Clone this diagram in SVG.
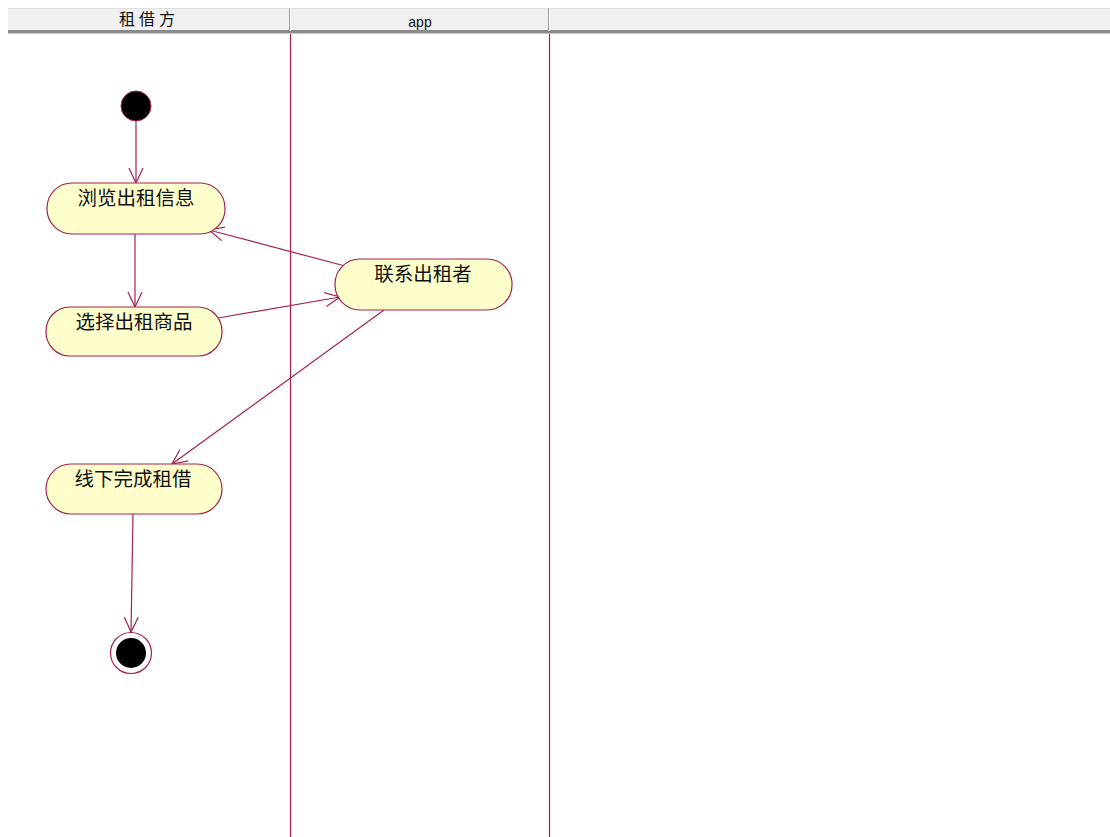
<svg xmlns="http://www.w3.org/2000/svg" width="1110" height="837" viewBox="0 0 1110 837">
<defs>
<style>
.lane{stroke:#a3234f;stroke-width:1.2;fill:none}
.act{fill:#ffffcc;stroke:#a3234f;stroke-width:1.2}
.lbl{font-family:"Noto Sans CJK SC","Liberation Sans",sans-serif;font-size:19.5px;fill:#111;text-anchor:middle}
.hdr{font-family:"Noto Sans CJK SC","Liberation Sans",sans-serif;font-size:16px;fill:#111;text-anchor:middle}
.edge{stroke:#a3234f;stroke-width:1.2;fill:none;marker-end:url(#open)}
</style>
<marker id="open" viewBox="0 0 16 16" refX="15" refY="8" markerWidth="16" markerHeight="16" markerUnits="userSpaceOnUse" orient="auto">
<path d="M0,1 L15,8 L0,15" fill="none" stroke="#a3234f" stroke-width="1.2"/>
</marker>
</defs>
<rect width="1110" height="837" fill="#ffffff"/>
<g id="header">
<rect x="8" y="8" width="1102" height="23" fill="#f0f0f0"/>
<line x1="8" y1="8.5" x2="1110" y2="8.5" stroke="#e0e0e0"/>
<rect x="8" y="30" width="1102" height="3" fill="#8a8a8a"/>
<line x1="8" y1="33.5" x2="1110" y2="33.5" stroke="#c8c8c8"/>
<line x1="289.5" y1="8" x2="289.5" y2="31" stroke="#a0a0a0"/>
<line x1="290.5" y1="8" x2="290.5" y2="31" stroke="#ffffff"/>
<line x1="548.5" y1="8" x2="548.5" y2="31" stroke="#a0a0a0"/>
<line x1="549.5" y1="8" x2="549.5" y2="31" stroke="#ffffff"/>
<text class="hdr" x="149" y="25" style="letter-spacing:4px">租借方</text>
<text class="hdr" x="420" y="27" style="font-size:14px;font-family:'Liberation Sans',sans-serif">app</text>
</g>
<g id="lanes">
<line class="lane" x1="290.5" y1="34" x2="290.5" y2="837"/>
<line class="lane" x1="549.5" y1="34" x2="549.5" y2="837"/>
</g>
<g id="connectors">
<line class="edge" x1="136" y1="121" x2="136" y2="183"/>
<line class="edge" x1="135" y1="234" x2="135" y2="307"/>
<line class="edge" x1="345" y1="266" x2="209" y2="230"/>
<line class="edge" x1="218" y1="318" x2="340" y2="297"/>
<line class="edge" x1="384" y1="310" x2="172" y2="464"/>
<line class="edge" x1="133" y1="514" x2="131" y2="632"/>
</g>
<g id="start">
<circle cx="136" cy="106" r="15" fill="#000" stroke="#a3234f" stroke-width="1"/>
</g>
<g id="browse">
<rect class="act" x="47" y="183" width="178" height="51" rx="25" ry="25"/>
<text class="lbl" x="136" y="205">浏览出租信息</text>
</g>
<g id="select">
<rect class="act" x="46" y="307" width="176" height="49" rx="24" ry="24"/>
<text class="lbl" x="134" y="329">选择出租商品</text>
</g>
<g id="contact">
<rect class="act" x="335" y="259" width="177" height="51" rx="25" ry="25"/>
<text class="lbl" x="423" y="281">联系出租者</text>
</g>
<g id="offline">
<rect class="act" x="46" y="464" width="176" height="50" rx="25" ry="25"/>
<text class="lbl" x="133" y="486">线下完成租借</text>
</g>
<g id="end">
<circle cx="131" cy="653" r="20.5" fill="#fff" stroke="#a3234f" stroke-width="1.2"/>
<circle cx="131" cy="653" r="15" fill="#000"/>
</g>
</svg>
